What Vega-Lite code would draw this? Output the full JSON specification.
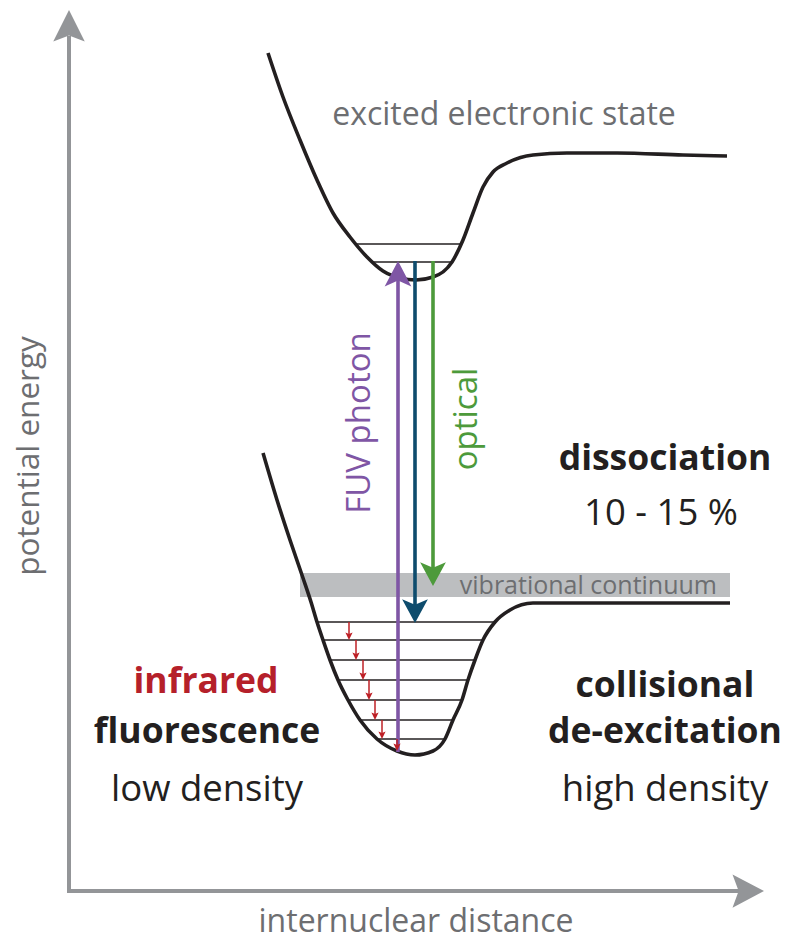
{
  "$schema": "https://vega.github.io/schema/vega-lite/v6.json",
  "width": 787,
  "height": 940,
  "autosize": {"type": "fit", "contains": "padding"},
  "padding": 0,
  "background": "white",
  "config": {"view": {"stroke": null}, "font": "Open Sans"},
  "datasets": {
    "band": [{"x": 300, "x2": 730, "y": 573, "y2": 597}],
    "curves": [
      {"curve": "excited", "x": 268, "y": 53},
      {"curve": "excited", "x": 283, "y": 97},
      {"curve": "excited", "x": 300, "y": 140},
      {"curve": "excited", "x": 317, "y": 180},
      {"curve": "excited", "x": 333, "y": 213},
      {"curve": "excited", "x": 350, "y": 237},
      {"curve": "excited", "x": 367, "y": 257},
      {"curve": "excited", "x": 383, "y": 271},
      {"curve": "excited", "x": 400, "y": 278},
      {"curve": "excited", "x": 416, "y": 280},
      {"curve": "excited", "x": 433, "y": 277},
      {"curve": "excited", "x": 452, "y": 262},
      {"curve": "excited", "x": 463, "y": 240},
      {"curve": "excited", "x": 473, "y": 213},
      {"curve": "excited", "x": 483, "y": 187},
      {"curve": "excited", "x": 493, "y": 172},
      {"curve": "excited", "x": 507, "y": 163},
      {"curve": "excited", "x": 533, "y": 155},
      {"curve": "excited", "x": 567, "y": 153},
      {"curve": "excited", "x": 617, "y": 153},
      {"curve": "excited", "x": 683, "y": 155},
      {"curve": "excited", "x": 727, "y": 156},
      {"curve": "ground", "x": 263, "y": 453},
      {"curve": "ground", "x": 277, "y": 500},
      {"curve": "ground", "x": 290, "y": 540},
      {"curve": "ground", "x": 303, "y": 578},
      {"curve": "ground", "x": 311, "y": 602},
      {"curve": "ground", "x": 317, "y": 622},
      {"curve": "ground", "x": 323, "y": 640},
      {"curve": "ground", "x": 330, "y": 660},
      {"curve": "ground", "x": 338, "y": 680},
      {"curve": "ground", "x": 348, "y": 700},
      {"curve": "ground", "x": 360, "y": 720},
      {"curve": "ground", "x": 377, "y": 739},
      {"curve": "ground", "x": 397, "y": 751},
      {"curve": "ground", "x": 415, "y": 755},
      {"curve": "ground", "x": 433, "y": 751},
      {"curve": "ground", "x": 445, "y": 739},
      {"curve": "ground", "x": 453, "y": 720},
      {"curve": "ground", "x": 462, "y": 700},
      {"curve": "ground", "x": 468, "y": 680},
      {"curve": "ground", "x": 475, "y": 660},
      {"curve": "ground", "x": 483, "y": 640},
      {"curve": "ground", "x": 495, "y": 622},
      {"curve": "ground", "x": 510, "y": 610},
      {"curve": "ground", "x": 533, "y": 603},
      {"curve": "ground", "x": 583, "y": 603},
      {"curve": "ground", "x": 730, "y": 603}
    ],
    "levels": [
      {"state": "excited", "x": 357, "x2": 461, "y": 244},
      {"state": "excited", "x": 373, "x2": 453, "y": 262},
      {"state": "ground", "x": 317, "x2": 495, "y": 622},
      {"state": "ground", "x": 323, "x2": 483, "y": 640},
      {"state": "ground", "x": 330, "x2": 475, "y": 660},
      {"state": "ground", "x": 338, "x2": 468, "y": 680},
      {"state": "ground", "x": 348, "x2": 462, "y": 700},
      {"state": "ground", "x": 360, "x2": 453, "y": 720},
      {"state": "ground", "x": 377, "x2": 445, "y": 739}
    ],
    "axes": [
      {"axis": "energy", "x": 69, "x2": 69, "y": 893, "y2": 36},
      {"axis": "distance", "x": 67, "x2": 740, "y": 891, "y2": 891}
    ],
    "shafts": [
      {"arrow": "FUV photon", "x": 398, "y": 752, "y2": 275},
      {"arrow": "dissociation", "x": 415, "y": 261, "y2": 610},
      {"arrow": "optical", "x": 433, "y": 261, "y2": 574}
    ],
    "irShafts": [
      {"x": 349, "y": 622, "y2": 635},
      {"x": 356, "y": 640, "y2": 655},
      {"x": 363, "y": 660, "y2": 675},
      {"x": 369, "y": 680, "y2": 695},
      {"x": 375, "y": 700, "y2": 715},
      {"x": 382, "y": 720, "y2": 734},
      {"x": 397, "y": 739, "y2": 746}
    ],
    "heads": [
      {"arrow": "FUV photon", "dir": "up", "x": 398, "y": 261},
      {"arrow": "dissociation", "dir": "down", "x": 415, "y": 623},
      {"arrow": "optical", "dir": "down", "x": 433, "y": 586},
      {"arrow": "infrared", "dir": "down", "x": 349, "y": 640},
      {"arrow": "infrared", "dir": "down", "x": 356, "y": 660},
      {"arrow": "infrared", "dir": "down", "x": 363, "y": 680},
      {"arrow": "infrared", "dir": "down", "x": 369, "y": 700},
      {"arrow": "infrared", "dir": "down", "x": 375, "y": 720},
      {"arrow": "infrared", "dir": "down", "x": 382, "y": 739},
      {"arrow": "infrared", "dir": "down", "x": 397, "y": 751},
      {"arrow": "energy", "dir": "up", "x": 69, "y": 10},
      {"arrow": "distance", "dir": "right", "x": 764, "y": 891}
    ],
    "labels": [
      {"style": "gray", "text": "excited electronic state", "x": 504, "y": 125},
      {"style": "gray", "text": "internuclear distance", "x": 416, "y": 932},
      {"style": "grayRot", "text": "potential energy", "x": 39, "y": 456},
      {"style": "vib", "text": "vibrational continuum", "x": 717, "y": 594},
      {"style": "bold", "text": "dissociation", "x": 665, "y": 470},
      {"style": "regular", "text": "10 - 15 %", "x": 661, "y": 525},
      {"style": "boldRed", "text": "infrared", "x": 206, "y": 693},
      {"style": "bold", "text": "fluorescence", "x": 207, "y": 743},
      {"style": "regular", "text": "low density", "x": 207, "y": 801},
      {"style": "bold", "text": "collisional", "x": 665, "y": 697},
      {"style": "bold", "text": "de-excitation", "x": 665, "y": 743},
      {"style": "regular", "text": "high density", "x": 665, "y": 801},
      {"style": "fuv", "text": "FUV photon", "x": 370, "y": 423},
      {"style": "optical", "text": "optical", "x": 477, "y": 419}
    ]
  },
  "layer": [
    {
      "data": {"name": "band"},
      "mark": {"type": "rect", "color": "#bcbec0"},
      "encoding": {
        "x": {"field": "x", "type": "quantitative", "scale": {"domain": [0, 787], "nice": false, "zero": false}, "axis": null},
        "x2": {"field": "x2"},
        "y": {"field": "y", "type": "quantitative", "scale": {"domain": [0, 940], "reverse": true, "nice": false, "zero": false}, "axis": null},
        "y2": {"field": "y2"}
      }
    },
    {
      "data": {"name": "curves"},
      "mark": {"type": "line", "interpolate": "monotone", "strokeWidth": 3.6, "color": "#231f20"},
      "encoding": {
        "x": {"field": "x", "type": "quantitative", "axis": null},
        "y": {"field": "y", "type": "quantitative", "axis": null},
        "detail": {"field": "curve"}
      }
    },
    {
      "data": {"name": "levels"},
      "mark": {"type": "rule", "strokeWidth": 1.6, "color": "#231f20"},
      "encoding": {
        "x": {"field": "x", "type": "quantitative", "axis": null},
        "x2": {"field": "x2"},
        "y": {"field": "y", "type": "quantitative", "axis": null}
      }
    },
    {
      "data": {"name": "axes"},
      "mark": {"type": "rule", "strokeWidth": 4, "color": "#939598"},
      "encoding": {
        "x": {"field": "x", "type": "quantitative", "axis": null},
        "x2": {"field": "x2"},
        "y": {"field": "y", "type": "quantitative", "axis": null},
        "y2": {"field": "y2"}
      }
    },
    {
      "data": {"name": "heads"},
      "transform": [{"filter": "datum.arrow === 'energy'"}],
      "mark": {"type": "point", "filled": true, "opacity": 1, "size": 1225, "color": "#939598", "shape": "M0,0 L0.9,1.8 L0,1.45 L-0.9,1.8 Z"},
      "encoding": {
        "x": {"field": "x", "type": "quantitative", "axis": null},
        "y": {"field": "y", "type": "quantitative", "axis": null}
      }
    },
    {
      "data": {"name": "heads"},
      "transform": [{"filter": "datum.arrow === 'distance'"}],
      "mark": {"type": "point", "filled": true, "opacity": 1, "size": 1225, "color": "#939598", "shape": "M0,0 L-1.8,0.95 L-1.45,0 L-1.8,-0.95 Z"},
      "encoding": {
        "x": {"field": "x", "type": "quantitative", "axis": null},
        "y": {"field": "y", "type": "quantitative", "axis": null}
      }
    },
    {
      "data": {"name": "shafts"},
      "mark": {"type": "rule", "strokeWidth": 3.6},
      "encoding": {
        "x": {"field": "x", "type": "quantitative", "axis": null},
        "y": {"field": "y", "type": "quantitative", "axis": null},
        "y2": {"field": "y2"},
        "color": {"field": "arrow", "type": "nominal", "legend": null,
          "scale": {"domain": ["FUV photon", "dissociation", "optical", "infrared"], "range": ["#7f56a5", "#0e4c6d", "#4d9a3b", "#be2026"]}}
      }
    },
    {
      "data": {"name": "irShafts"},
      "mark": {"type": "rule", "strokeWidth": 1.5, "color": "#be2026"},
      "encoding": {
        "x": {"field": "x", "type": "quantitative", "axis": null},
        "y": {"field": "y", "type": "quantitative", "axis": null},
        "y2": {"field": "y2"}
      }
    },
    {
      "data": {"name": "heads"},
      "transform": [{"filter": "datum.arrow === 'FUV photon'"}],
      "mark": {"type": "point", "filled": true, "opacity": 1, "size": 841, "shape": "M0,0 L0.92,1.75 L0,1.35 L-0.92,1.75 Z"},
      "encoding": {
        "x": {"field": "x", "type": "quantitative", "axis": null},
        "y": {"field": "y", "type": "quantitative", "axis": null},
        "color": {"field": "arrow", "type": "nominal", "legend": null}
      }
    },
    {
      "data": {"name": "heads"},
      "transform": [{"filter": "datum.arrow === 'dissociation' || datum.arrow === 'optical'"}],
      "mark": {"type": "point", "filled": true, "opacity": 1, "size": 784, "shape": "M0,0 L0.92,-1.7 L0,-1.3 L-0.92,-1.7 Z"},
      "encoding": {
        "x": {"field": "x", "type": "quantitative", "axis": null},
        "y": {"field": "y", "type": "quantitative", "axis": null},
        "color": {"field": "arrow", "type": "nominal", "legend": null}
      }
    },
    {
      "data": {"name": "heads"},
      "transform": [{"filter": "datum.arrow === 'infrared'"}],
      "mark": {"type": "point", "filled": true, "opacity": 1, "size": 64, "color": "#be2026", "shape": "M0,0 L0.9,-1.9 L0,-1.5 L-0.9,-1.9 Z"},
      "encoding": {
        "x": {"field": "x", "type": "quantitative", "axis": null},
        "y": {"field": "y", "type": "quantitative", "axis": null}
      }
    },
    {
      "data": {"name": "labels"},
      "transform": [{"filter": "datum.style === 'gray'"}],
      "mark": {"type": "text", "font": "Open Sans", "fontSize": 32, "color": "#6d6e71", "align": "center", "baseline": "alphabetic"},
      "encoding": {
        "x": {"field": "x", "type": "quantitative", "axis": null},
        "y": {"field": "y", "type": "quantitative", "axis": null},
        "text": {"field": "text"}
      }
    },
    {
      "data": {"name": "labels"},
      "transform": [{"filter": "datum.style === 'grayRot'"}],
      "mark": {"type": "text", "font": "Open Sans", "fontSize": 31.5, "color": "#6d6e71", "align": "center", "baseline": "alphabetic", "angle": 270},
      "encoding": {
        "x": {"field": "x", "type": "quantitative", "axis": null},
        "y": {"field": "y", "type": "quantitative", "axis": null},
        "text": {"field": "text"}
      }
    },
    {
      "data": {"name": "labels"},
      "transform": [{"filter": "datum.style === 'vib'"}],
      "mark": {"type": "text", "font": "Open Sans", "fontSize": 25, "color": "#6d6e71", "align": "right", "baseline": "alphabetic"},
      "encoding": {
        "x": {"field": "x", "type": "quantitative", "axis": null},
        "y": {"field": "y", "type": "quantitative", "axis": null},
        "text": {"field": "text"}
      }
    },
    {
      "data": {"name": "labels"},
      "transform": [{"filter": "datum.style === 'bold'"}],
      "mark": {"type": "text", "font": "Open Sans", "fontSize": 35.5, "fontWeight": "bold", "color": "#231f20", "align": "center", "baseline": "alphabetic"},
      "encoding": {
        "x": {"field": "x", "type": "quantitative", "axis": null},
        "y": {"field": "y", "type": "quantitative", "axis": null},
        "text": {"field": "text"}
      }
    },
    {
      "data": {"name": "labels"},
      "transform": [{"filter": "datum.style === 'boldRed'"}],
      "mark": {"type": "text", "font": "Open Sans", "fontSize": 35.5, "fontWeight": "bold", "color": "#b5202a", "align": "center", "baseline": "alphabetic"},
      "encoding": {
        "x": {"field": "x", "type": "quantitative", "axis": null},
        "y": {"field": "y", "type": "quantitative", "axis": null},
        "text": {"field": "text"}
      }
    },
    {
      "data": {"name": "labels"},
      "transform": [{"filter": "datum.style === 'regular'"}],
      "mark": {"type": "text", "font": "Open Sans", "fontSize": 36.5, "color": "#231f20", "align": "center", "baseline": "alphabetic"},
      "encoding": {
        "x": {"field": "x", "type": "quantitative", "axis": null},
        "y": {"field": "y", "type": "quantitative", "axis": null},
        "text": {"field": "text"}
      }
    },
    {
      "data": {"name": "labels"},
      "transform": [{"filter": "datum.style === 'fuv'"}],
      "mark": {"type": "text", "font": "Open Sans", "fontSize": 33, "color": "#7f56a5", "align": "center", "baseline": "alphabetic", "angle": 270},
      "encoding": {
        "x": {"field": "x", "type": "quantitative", "axis": null},
        "y": {"field": "y", "type": "quantitative", "axis": null},
        "text": {"field": "text"}
      }
    },
    {
      "data": {"name": "labels"},
      "transform": [{"filter": "datum.style === 'optical'"}],
      "mark": {"type": "text", "font": "Open Sans", "fontSize": 33, "color": "#4d9a3b", "align": "center", "baseline": "alphabetic", "angle": 270},
      "encoding": {
        "x": {"field": "x", "type": "quantitative", "axis": null},
        "y": {"field": "y", "type": "quantitative", "axis": null},
        "text": {"field": "text"}
      }
    }
  ]
}
